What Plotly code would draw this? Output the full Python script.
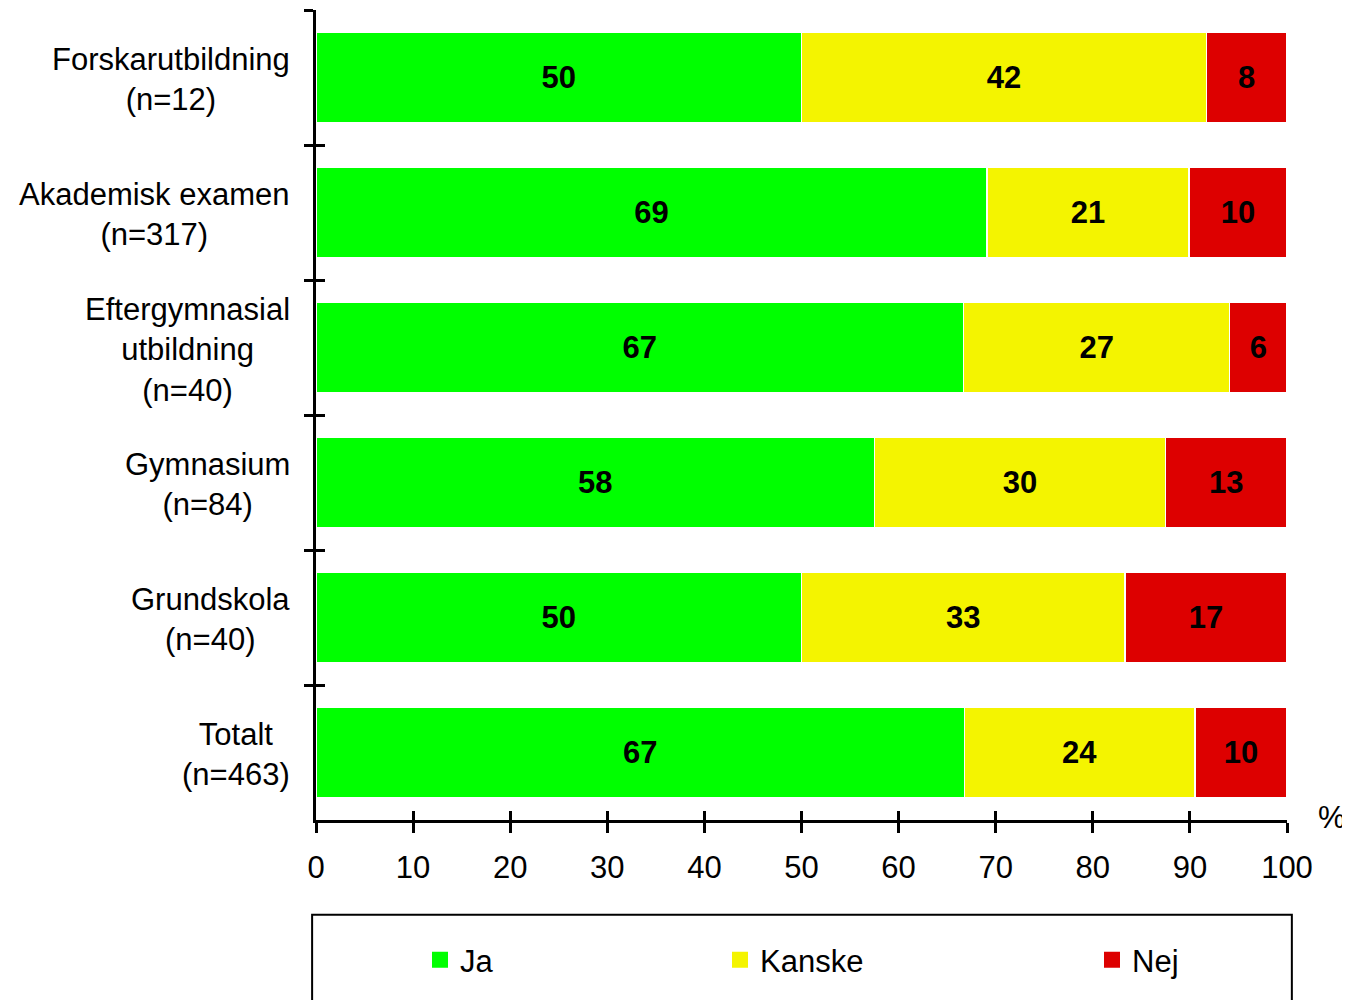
import plotly.graph_objects as go

# data
categories = ["Forskarutbildning<br>(n=12)",
              "Akademisk examen<br>(n=317)",
              "Eftergymnasial<br>utbildning<br>(n=40)",
              "Gymnasium<br>(n=84)",
              "Grundskola<br>(n=40)",
              "Totalt<br>(n=463)"]
ja = [50.0, 69.1, 66.7, 57.5, 50.0, 66.8]
kanske = [41.7, 20.8, 27.4, 30.0, 33.3, 23.7]
nej = [8.3, 10.1, 5.9, 12.5, 16.7, 9.5]
x_ticks = list(range(0, 101, 10))

series = [("Ja", ja, "#00FF00", "legend"),
          ("Kanske", kanske, "#F4F400", "legend2"),
          ("Nej", nej, "#DD0000", "legend3")]

FONT = "Liberation Sans, Arial, sans-serif"
FS = 31

fig = go.Figure()
for name, vals, col, leg in series:
    fig.add_trace(go.Bar(
        y=categories, x=vals, name=name, orientation="h",
        marker=dict(color=col, line=dict(color="white", width=1.5)),
        width=0.67,
        texttemplate="%{x:.0f}", textposition="inside",
        insidetextanchor="middle", textangle=0, constraintext="none",
        textfont=dict(family=FONT, size=FS, color="black", weight="bold"),
        showlegend=False,
    ))
    # legend entry with a bigger square
    fig.add_trace(go.Scatter(
        x=[None], y=[None], mode="markers", name=name,
        marker=dict(symbol="square", size=16, color=col),
        legend=leg, showlegend=True, hoverinfo="skip",
    ))

# invisible trace so the overlay axes (inner tick halves) get drawn
fig.add_trace(go.Scatter(x=[None], y=[None], xaxis="x2", yaxis="y2",
                         showlegend=False, hoverinfo="skip"))

# category labels, centred lines like the original
for cat in categories:
    fig.add_annotation(x=-0.025, xref="paper", y=cat, yref="y", text=cat,
                       showarrow=False, xanchor="right", yanchor="middle",
                       align="center", yshift=-2,
                       font=dict(family=FONT, size=FS, color="black"))

fig.add_annotation(x=1.046, xref="paper", y=0.003, yref="paper", text="%",
                   showarrow=False, xanchor="center", yanchor="middle",
                   font=dict(family=FONT, size=FS, color="black"))

# legend frame
fig.add_shape(type="rect", xref="paper", yref="paper",
              x0=-0.004, x1=1.005, y0=-0.117, y1=-0.3,
              line=dict(color="black", width=2))

leg_common = dict(orientation="h", yanchor="middle", xanchor="left",
                  font=dict(family=FONT, size=FS, color="black"),
                  bgcolor="rgba(0,0,0,0)", borderwidth=0)
# the page body has an 8px margin, so the figure is a bit smaller
fig.update_layout(
    barmode="stack",
    showlegend=True,
    width=1342, height=992,
    margin=dict(l=308, r=63, t=2, b=180, autoexpand=False),
    paper_bgcolor="white", plot_bgcolor="white",
    font=dict(family=FONT, size=FS, color="black"),
    legend=dict(x=(420 - 316) / 971, y=-0.173, **leg_common),
    legend2=dict(x=(720 - 316) / 971, y=-0.173, **leg_common),
    legend3=dict(x=(1092 - 316) / 971, y=-0.173, **leg_common),
    xaxis=dict(range=[0, 100], tickvals=x_ticks, ticks="outside", ticklen=10,
               tickwidth=3, tickcolor="black", showline=True, linewidth=3,
               linecolor="black", showgrid=False, zeroline=False,
               ticklabelstandoff=8,
               tickfont=dict(family=FONT, size=FS, color="black")),
    xaxis2=dict(range=[0, 100], tickvals=x_ticks, ticks="inside", ticklen=9,
                tickwidth=3, tickcolor="black", showticklabels=False,
                showline=False, showgrid=False, zeroline=False,
                overlaying="x", anchor="y", side="bottom"),
    yaxis=dict(autorange="reversed", ticks="outside", tickson="boundaries",
               ticklen=9, tickwidth=3, tickcolor="black", showline=True,
               linewidth=3, linecolor="black", showgrid=False,
               showticklabels=False),
    yaxis2=dict(range=[5.5, -0.5], tickvals=[-0.5, 0.5, 1.5, 2.5, 3.5, 4.5, 5.5],
                ticks="inside", ticklen=9, tickwidth=3, tickcolor="black",
                showticklabels=False, showline=False, showgrid=False,
                zeroline=False, overlaying="y", anchor="x", side="left"),
)

fig.write_html("out.html")
